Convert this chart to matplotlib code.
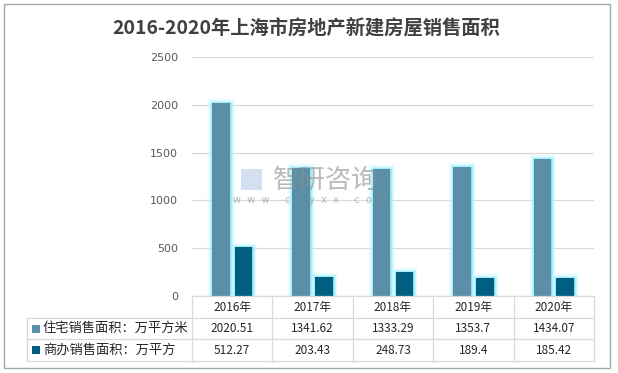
import matplotlib
matplotlib.use("Agg")
import matplotlib.pyplot as plt
import matplotlib.patheffects as pe
from matplotlib.lines import Line2D
from matplotlib.patches import Rectangle
import numpy as np

plt.rcParams['font.family'] = ['Noto Sans CJK SC', 'DejaVu Sans']

title = "2016-2020年上海市房地产新建房屋销售面积"
years = ["2016年", "2017年", "2018年", "2019年", "2020年"]
series_names = ["住宅销售面积：万平方米", "商办销售面积：万平方"]
residential = [2020.51, 1341.62, 1333.29, 1353.7, 1434.07]
commercial = [512.27, 203.43, 248.73, 189.4, 185.42]
residential_labels = ["2020.51", "1341.62", "1333.29", "1353.7", "1434.07"]
commercial_labels = ["512.27", "203.43", "248.73", "189.4", "185.42"]
yticks = [0, 500, 1000, 1500, 2000, 2500]

colors = ["#5B8FA8", "#005F80"]

W, H = 618, 373
fig = plt.figure(figsize=(W / 100, H / 100), dpi=100)

def fx(px):
    return px / W

def fy(py):
    return 1 - py / H

# outer border
fig.add_artist(Rectangle((fx(4), fy(368)), fx(606), 364 / H, transform=fig.transFigure,
                         fill=False, edgecolor="#A6A6A6", linewidth=1.0))

ax_l, ax_r, ax_t, ax_b = 192, 594, 57, 296
ax = fig.add_axes([fx(ax_l), fy(ax_b), fx(ax_r - ax_l), (ax_b - ax_t) / H])
x = np.arange(len(years))
w = 0.22
off = 0.142
glow = [pe.Stroke(linewidth=6.0, foreground="#C4F7FF", alpha=0.35),
        pe.Stroke(linewidth=3.8, foreground="#A8F2FF", alpha=0.55),
        pe.Stroke(linewidth=1.8, foreground="#8EEAF8", alpha=0.8),
        pe.Normal()]
for vals, c, d in [(residential, colors[0], -off), (commercial, colors[1], off)]:
    bars = ax.bar(x + d, vals, width=w, color=c, zorder=3, linewidth=0)
    for b in bars:
        b.set_path_effects(glow)

ax.set_xlim(-0.5, len(years) - 0.5)
ax.set_ylim(0, 2500)
ax.set_yticks(yticks)
ax.set_yticklabels([str(v) for v in yticks], color="#595959", fontsize=8, family="DejaVu Sans")
ax.tick_params(axis="y", length=0, pad=10)
ax.set_xticks([])
ax.grid(axis="y", color="#D9D9D9", linewidth=0.9, zorder=0)
for s in ax.spines.values():
    s.set_visible(False)

# title
fig.text(fx(306.5), fy(28.5), title, ha="center", va="center", fontsize=13.9,
         fontweight="bold", color="#404040")

# watermark
fig.text(fx(326), fy(180), "智研咨询", ha="center", va="center", fontsize=19,
         color="#8C8C8C", alpha=0.6, zorder=10)
fig.text(fx(310), fy(200), "w  w  w  .  c  h  y  x  x  .  c  o  m", ha="center", va="center",
         fontsize=7, color="#8C8C8C", alpha=0.6, zorder=10, family="DejaVu Sans")
fig.add_artist(Rectangle((fx(241), fy(190)), fx(21), 21 / H, transform=fig.transFigure,
                         facecolor="#B8CCE8", edgecolor="none", alpha=0.6, zorder=10))

# data table
tbl_l = 27
row_y = [296, 318, 339, 361]
col_w = (ax_r - ax_l) / len(years)
lc = "#D9D9D9"

def hline(y, x0, x1):
    fig.add_artist(Line2D([fx(x0), fx(x1)], [fy(y), fy(y)], transform=fig.transFigure,
                          color=lc, linewidth=0.9))

def vline(xp, y0, y1):
    fig.add_artist(Line2D([fx(xp), fx(xp)], [fy(y0), fy(y1)], transform=fig.transFigure,
                          color=lc, linewidth=0.9))

hline(row_y[0], ax_l, ax_r)
for yy in row_y[1:]:
    hline(yy, tbl_l, ax_r)
vline(tbl_l, row_y[1], row_y[3])
for i in range(len(years) + 1):
    vline(ax_l + i * col_w, row_y[0], row_y[3])

txt_c = "#262626"
for i, yr in enumerate(years):
    cx = ax_l + (i + 0.5) * col_w
    fig.text(fx(cx), fy((row_y[0] + row_y[1]) / 2), yr, ha="center", va="center",
             fontsize=8.5, color=txt_c)
    fig.text(fx(cx), fy((row_y[1] + row_y[2]) / 2), residential_labels[i], ha="center",
             va="center", fontsize=8.5, color=txt_c)
    fig.text(fx(cx), fy((row_y[2] + row_y[3]) / 2), commercial_labels[i], ha="center",
             va="center", fontsize=8.5, color=txt_c)

for r, (name, c) in enumerate(zip(series_names, colors)):
    cy = (row_y[r + 1] + row_y[r + 2]) / 2
    fig.add_artist(Rectangle((fx(32), fy(cy + 4)), fx(8), 8 / H, transform=fig.transFigure,
                             facecolor=c, edgecolor="none"))
    fig.text(fx(43), fy(cy), name, ha="left", va="center", fontsize=9.5, color=txt_c)

fig.savefig("out.png", dpi=100)
